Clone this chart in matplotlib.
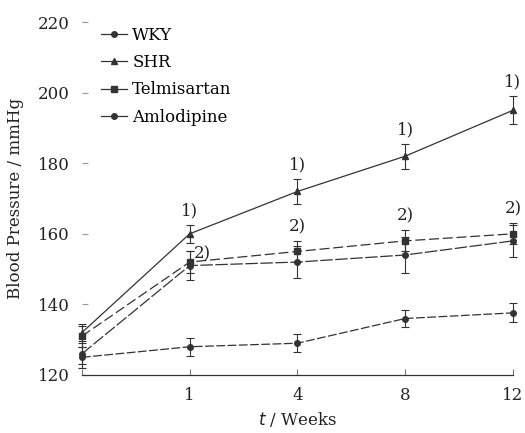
import matplotlib.pyplot as plt
from matplotlib.lines import Line2D
import numpy as np

# Data
weeks = ['', '1', '4', '8', '12']
wky = [125, 128, 129, 136, 137.6]
wky_err = [3, 2.5, 2.5, 2.5, 2.7]
shr = [132, 160, 172, 182, 195]
shr_err = [2.5, 2.5, 3.5, 3.5, 4]
telmi = [131, 152, 155, 158, 160]
telmi_err = [3, 3, 3, 3, 3]
amlo = [126, 151, 152, 154, 158]
amlo_err = [3, 4, 4.5, 5, 4.5]
shr_marks = ['1)', '1)', '1)', '1)']
drug_marks = ['2)', '2)', '2)', '2)']

plt.rcParams['font.family'] = ['DejaVu Serif']
col = '#333333'

fig = plt.figure(figsize=(5.25, 4.33), dpi=100)
ax = fig.add_axes([0.156, 0.134, 0.821, 0.815])
x = np.arange(len(weeks))

series = [
    ('WKY', wky, wky_err, 'o', (7, 2)),
    ('SHR', shr, shr_err, '^', None),
    ('Telmisartan', telmi, telmi_err, 's', (8, 3)),
    ('Amlodipine', amlo, amlo_err, 'o', (10, 2)),
]
handles = []
for name, y, e, mk, dash in series:
    line, caps, bars = ax.errorbar(x, y, yerr=e, marker=mk, ms=4, lw=0.9,
                                   color=col, capsize=3, elinewidth=0.8,
                                   capthick=0.8)
    if dash:
        line.set_dashes(dash)
    for a in [line, *caps, *bars]:
        a.set_clip_on(False)
    handles.append(Line2D([], [], color=col, marker=mk, ms=4, lw=0.9, label=name))

# significance marks
for i, m in enumerate(shr_marks, start=1):
    ax.annotate(m, (x[i], shr[i] + shr_err[i]), xytext=(0, 4),
                textcoords='offset points', ha='center', va='bottom',
                fontsize=12, color='#222222')
for i, m in enumerate(drug_marks, start=1):
    if i == 1:
        ax.annotate(m, (x[i], telmi[i]), xytext=(9, 0),
                    textcoords='offset points', ha='center', va='bottom',
                    fontsize=12, color='#222222')
    else:
        ax.annotate(m, (x[i], telmi[i] + telmi_err[i]), xytext=(0, 4),
                    textcoords='offset points', ha='center', va='bottom',
                    fontsize=12, color='#222222')

ax.set_xlim(0, 4)
ax.set_ylim(120, 220)
ax.set_xticks(x)
ax.set_xticklabels(weeks)
ax.set_yticks(np.arange(120, 221, 20))

for s in ['top', 'right', 'left']:
    ax.spines[s].set_visible(False)
ax.spines['bottom'].set_color(col)
ax.spines['bottom'].set_linewidth(0.9)
ax.tick_params(axis='x', direction='in', length=4, color='#777777',
               labelsize=12, pad=9, labelcolor='#222222')
ax.tick_params(axis='y', direction='in', length=4, color='#999999',
               labelsize=12, pad=9, labelcolor='#222222')

ax.set_ylabel('Blood Pressure / mmHg', fontsize=12, color='#222222', labelpad=10)
ax.set_xlabel('$\\it{t}$ / Weeks', fontsize=12, color='#222222', labelpad=4)

ax.legend(handles=handles, loc='upper left', bbox_to_anchor=(0.02, 1.015),
          frameon=False, fontsize=12, handlelength=1.6, handletextpad=0.3,
          labelspacing=0.62, borderaxespad=0.2)

fig.savefig('out.png', dpi=100)
